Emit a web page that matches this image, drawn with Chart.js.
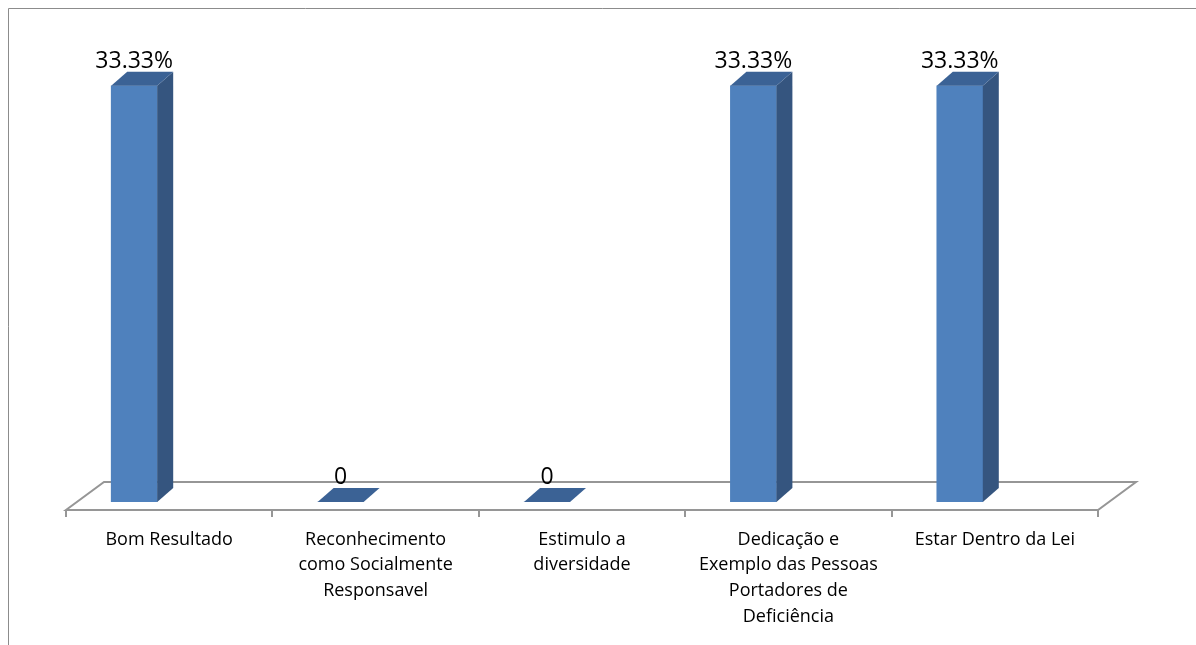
<!DOCTYPE html>
<html>
<head>
<meta charset="utf-8">
<script src="https://cdn.jsdelivr.net/npm/chart.js@4"></script>
<style>
  html, body { margin: 0; padding: 0; background: #fff; }
  #wrap { width: 1196px; height: 645px; position: relative; }
</style>
</head>
<body>
<div id="wrap"><canvas id="myChart"></canvas></div>
<script>
// categorias e valores (%)
var categorias = [
  'Bom Resultado',
  ['Reconhecimento', 'como Socialmente', 'Responsavel'],
  ['Estimulo a', 'diversidade'],
  ['Dedicação e', 'Exemplo das Pessoas', 'Portadores de', 'Deficiência'],
  'Estar Dentro da Lei'
];
var valores = [33.33, 0, 0, 33.33, 33.33];
var rotulos = ['33.33%', '0', '0', '33.33%', '33.33%'];

var prof = { dx: 16, dy: -14 };      // profundidade da barra
var piso = { dx: 38, dy: -28, shift: 35, drop: 8 };

var efeito3d = {
  id: 'efeito3d',
  beforeDraw: function(chart) {
    var c = chart.ctx;
    c.save();
    c.strokeStyle = '#8c8c8c';
    c.lineWidth = 1;
    c.beginPath();
    c.moveTo(8.5, 645); c.lineTo(8.5, 8.5); c.lineTo(1196, 8.5);
    c.stroke();
    c.restore();
  },
  beforeDatasetsDraw: function(chart) {
    var c = chart.ctx, a = chart.chartArea;
    var y0 = a.bottom + piso.drop;
    var x0 = a.left + piso.shift, x1 = a.right + piso.shift;
    c.save();
    c.strokeStyle = '#969696';
    c.lineWidth = 2;
    c.beginPath();
    c.moveTo(x0, y0);
    c.lineTo(x1, y0);
    c.lineTo(x1 + piso.dx, y0 + piso.dy);
    c.lineTo(x0 + piso.dx, y0 + piso.dy);
    c.closePath();
    c.stroke();
    var w = (a.right - a.left) / categorias.length;
    c.beginPath();
    for (var i = 0; i <= categorias.length; i++) {
      var tx = Math.round(x0 + i * w);
      c.moveTo(tx, y0); c.lineTo(tx, y0 + 7);
    }
    c.stroke();
    c.restore();
  },
  afterDatasetsDraw: function(chart) {
    var c = chart.ctx;
    var meta = chart.getDatasetMeta(0);
    c.save();
    meta.data.forEach(function(bar, i) {
      var p = bar.getProps(['x', 'y', 'base', 'width'], true);
      var l = p.x - p.width / 2, r = p.x + p.width / 2;
      var t = p.y, b = p.base;
      // lateral
      if (b - t > 0.5) {
        c.fillStyle = '#35557f';
        c.beginPath();
        c.moveTo(r, t); c.lineTo(r + prof.dx, t + prof.dy);
        c.lineTo(r + prof.dx, b + prof.dy); c.lineTo(r, b);
        c.closePath(); c.fill();
      }
      // topo
      c.fillStyle = '#3b6295';
      c.beginPath();
      c.moveTo(l, t); c.lineTo(r, t);
      c.lineTo(r + prof.dx, t + prof.dy); c.lineTo(l + prof.dx, t + prof.dy);
      c.closePath(); c.fill();
      // rotulo
      c.fillStyle = '#000';
      c.font = '23px "Open Sans"';
      c.textAlign = 'center';
      c.textBaseline = 'alphabetic';
      c.fillText(rotulos[i], p.x, t + prof.dy - 4);
    });
    c.restore();
  }
};

var ctx = document.getElementById('myChart').getContext('2d');
var myChart = new Chart(ctx, {
  type: 'bar',
  data: {
    labels: categorias,
    datasets: [{
      data: valores,
      backgroundColor: '#4f81bd',
      borderWidth: 0,
      barThickness: 46
    }]
  },
  options: {
    responsive: true,
    maintainAspectRatio: false,
    animation: false,
    layout: { padding: { left: 31, right: 133, top: 65, bottom: 0 } },
    scales: {
      x: {
        grid: { display: false, drawTicks: false },
        border: { display: false },
        afterFit: function(scale) { scale.height = 143; },
        ticks: {
          color: '#000',
          font: { family: 'Open Sans', size: 18, lineHeight: 1.42 },
          padding: 25,
          labelOffset: 35,
          maxRotation: 0,
          autoSkip: false
        }
      },
      y: {
        display: false,
        min: 0,
        max: 35
      }
    },
    plugins: {
      legend: { display: false },
      tooltip: { enabled: false }
    }
  },
  plugins: [efeito3d]
});
</script>
</body>
</html>
